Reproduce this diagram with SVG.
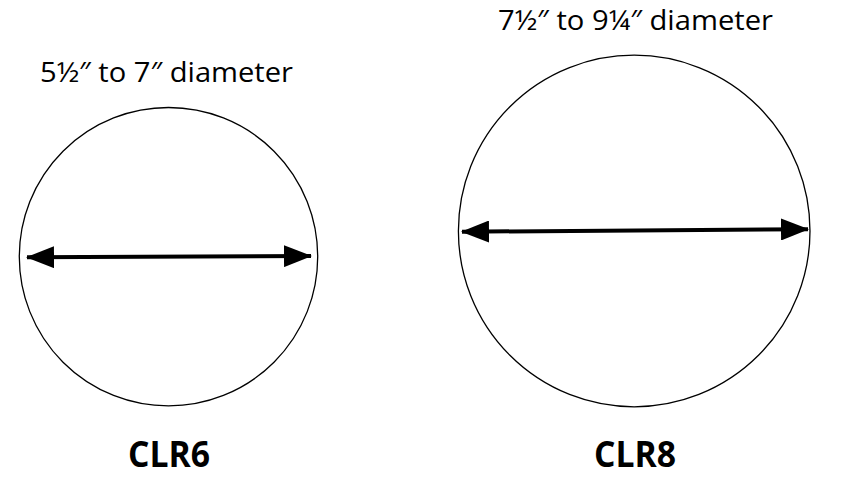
<svg xmlns="http://www.w3.org/2000/svg" width="841" height="488" viewBox="0 0 841 488">
<style>
.ring{fill:none;stroke:#000;stroke-width:1.3}
.dim{stroke:#000;stroke-width:4;fill:none;marker-start:url(#ah);marker-end:url(#ah)}
.cap{font-family:"Open Sans","Noto Sans",sans-serif;font-size:27px;fill:#000}
.lbl{font-family:"Open Sans","Noto Sans",sans-serif;font-weight:bold;font-size:35px;fill:#000;text-anchor:middle}
</style>
<defs>
<marker id="ah" viewBox="0 0 28 22" refX="27" refY="11" markerWidth="28" markerHeight="22" markerUnits="userSpaceOnUse" orient="auto-start-reverse">
<path d="M0,0 L28,11 L0,22 Z" fill="#000"/>
</marker>
</defs>
<rect width="841" height="488" fill="#fff"/>
<g id="clr6">
<circle class="ring" cx="168.5" cy="256.7" r="149.2"/>
<text class="cap" x="40" y="82" textLength="253" lengthAdjust="spacingAndGlyphs">5½″ to 7″ diameter</text>
<text class="lbl" x="169" y="467" textLength="82" lengthAdjust="spacingAndGlyphs">CLR6</text>
</g>
<g id="clr8">
<circle class="ring" cx="634.2" cy="231" r="175.8"/>
<text class="cap" x="498" y="29.5" textLength="275" lengthAdjust="spacingAndGlyphs">7½″ to 9¼″ diameter</text>
<text class="lbl" x="635" y="467" textLength="82" lengthAdjust="spacingAndGlyphs">CLR8</text>
</g>
<g id="connectors">
<line class="dim" x1="27" y1="257.3" x2="311" y2="256"/>
<line class="dim" x1="462" y1="231.7" x2="808" y2="229.3"/>
</g>
</svg>
